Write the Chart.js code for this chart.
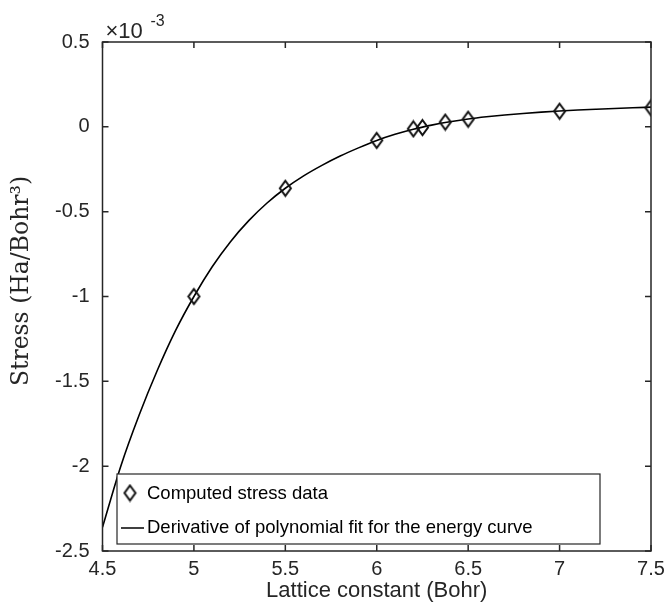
<!DOCTYPE html>
<html>
<head>
<meta charset="utf-8">
<script src="https://cdn.jsdelivr.net/npm/chart.js@4.4.1/dist/chart.umd.min.js"></script>
<style>
  html, body { margin: 0; padding: 0; background: #fff; }
  #wrap { width: 664px; height: 615px; }
</style>
</head>
<body>
<div id="wrap"><canvas id="stressChart" width="664" height="615"></canvas></div>
<script>
// Stress values are in units of 1e-3 Ha/Bohr^3 (axis carries the x10^-3 factor)
const latticePts = [5.0, 5.5, 6.0, 6.2, 6.25, 6.375, 6.5, 7.0, 7.5];
const stressPts = [-1.0, -0.362, -0.08, -0.012, -0.004, 0.028, 0.045, 0.092, 0.112];

// Curve (derivative of the polynomial fit)
const fitX = [4.5, 4.6, 4.7, 4.8, 4.9, 5.0, 5.1, 5.2, 5.3, 5.4, 5.5, 5.6, 5.7, 5.8, 5.9, 6.0,
              6.1, 6.2, 6.3, 6.4, 6.5, 6.6, 6.7, 6.8, 6.9, 7.0, 7.1, 7.2, 7.3, 7.4, 7.5];
const fitY = [-2.36, -2.0, -1.70, -1.435, -1.20, -1.0, -0.825, -0.677, -0.553, -0.449, -0.362,
              -0.289, -0.227, -0.172, -0.124, -0.08, -0.044, -0.014, 0.010, 0.030, 0.046,
              0.059, 0.070, 0.079, 0.0865, 0.093, 0.099, 0.104, 0.1085, 0.1125, 0.116];

const xTicks = [4.5, 5, 5.5, 6, 6.5, 7, 7.5];
const yTicks = [-2.5, -2, -1.5, -1, -0.5, 0, 0.5];

const INK = '#262626';
const SANS = '"Liberation Sans", Arial, sans-serif';

// MATLAB-style diamond marker (taller than wide), hollow
function makeDiamond(w, h, lw) {
    const c = document.createElement('canvas');
    c.width = w + 4;
    c.height = h + 4;
    const g = c.getContext('2d');
    const cx = c.width / 2, cy = c.height / 2;
    g.strokeStyle = '#111';
    g.lineWidth = lw;
    g.beginPath();
    g.moveTo(cx, cy - h / 2);
    g.lineTo(cx + w / 2, cy);
    g.lineTo(cx, cy + h / 2);
    g.lineTo(cx - w / 2, cy);
    g.closePath();
    g.stroke();
    return c;
}
const diamond = makeDiamond(11, 15, 2);

// inward ticks on all four sides, box, y label, x10^-3 factor and the legend
const framePlugin = {
    id: 'frame',
    afterDraw(chart) {
        const { ctx, chartArea: a, scales: { x, y } } = chart;
        ctx.save();
        ctx.strokeStyle = INK;
        ctx.lineWidth = 1.5;
        ctx.strokeRect(a.left, a.top, a.right - a.left, a.bottom - a.top);

        const tl = 6;
        ctx.beginPath();
        xTicks.forEach(v => {
            const px = x.getPixelForValue(v);
            ctx.moveTo(px, a.bottom); ctx.lineTo(px, a.bottom - tl);
            ctx.moveTo(px, a.top); ctx.lineTo(px, a.top + tl);
        });
        yTicks.forEach(v => {
            const py = y.getPixelForValue(v);
            ctx.moveTo(a.left, py); ctx.lineTo(a.left + tl, py);
            ctx.moveTo(a.right, py); ctx.lineTo(a.right - tl, py);
        });
        ctx.stroke();

        // y axis label (latex style serif)
        ctx.save();
        ctx.translate(22, 281);
        ctx.rotate(-Math.PI / 2);
        ctx.fillStyle = INK;
        ctx.textAlign = 'center';
        ctx.textBaseline = 'middle';
        ctx.font = '23.5px "DejaVu Serif", serif';
        ctx.fillText('Stress (Ha/Bohr\u00b3)', 0, 0);
        ctx.restore();

        // exponent factor
        ctx.fillStyle = INK;
        ctx.textBaseline = 'alphabetic';
        ctx.textAlign = 'left';
        ctx.font = '22px ' + SANS;
        ctx.fillText('\u00d710', a.left + 3, a.top - 4);
        ctx.font = '16px ' + SANS;
        ctx.fillText('-3', a.left + 48, a.top - 16);

        // legend box
        const lx = 117, ly = 474, lw = 483, lh = 70;
        ctx.fillStyle = '#fff';
        ctx.fillRect(lx, ly, lw, lh);
        ctx.lineWidth = 1.2;
        ctx.strokeStyle = INK;
        ctx.strokeRect(lx, ly, lw, lh);

        ctx.drawImage(diamond, 130 - diamond.width / 2, 493 - diamond.height / 2);
        ctx.beginPath();
        ctx.strokeStyle = '#000';
        ctx.lineWidth = 1.5;
        ctx.moveTo(121, 528);
        ctx.lineTo(144, 528);
        ctx.stroke();

        ctx.fillStyle = '#000';
        ctx.textBaseline = 'middle';
        ctx.font = '18.5px ' + SANS;
        ctx.fillText('Computed stress data', 147, 494);
        ctx.fillText('Derivative of polynomial fit for the energy curve', 147, 528);
        ctx.restore();
    }
};

const fitPoints = fitX.map((v, i) => ({ x: v, y: fitY[i] }));
const dataPoints = latticePts.map((v, i) => ({ x: v, y: stressPts[i] }));

new Chart(document.getElementById('stressChart'), {
    type: 'scatter',
    data: {
        datasets: [
            {
                label: 'Derivative of polynomial fit for the energy curve',
                data: fitPoints,
                showLine: true,
                borderColor: '#000',
                borderWidth: 1.6,
                pointRadius: 0,
                cubicInterpolationMode: 'monotone',
                order: 2
            },
            {
                label: 'Computed stress data',
                data: dataPoints,
                showLine: false,
                pointStyle: diamond,
                pointRadius: 7,
                order: 1
            }
        ]
    },
    options: {
        responsive: false,
        devicePixelRatio: 1,
        animation: false,
        layout: { padding: { top: 42, right: 13, left: 0, bottom: 0 } },
        plugins: {
            legend: { display: false },
            tooltip: { enabled: false }
        },
        scales: {
            x: {
                min: 4.5,
                max: 7.5,
                afterBuildTicks: s => { s.ticks = xTicks.map(v => ({ value: v })); },
                afterFit: s => { s.height = 64; s.paddingLeft = 0; s.paddingRight = 0; },
                grid: { display: false, drawTicks: false },
                border: { display: false },
                ticks: {
                    color: INK,
                    padding: 6,
                    maxRotation: 0,
                    font: { family: SANS, size: 20 },
                    callback: v => String(v)
                },
                title: {
                    display: true,
                    text: 'Lattice constant (Bohr)',
                    color: INK,
                    padding: { top: 11, bottom: 11 },
                    font: { family: SANS, size: 22 }
                }
            },
            y: {
                min: -2.5,
                max: 0.5,
                afterBuildTicks: s => { s.ticks = yTicks.map(v => ({ value: v })); },
                afterFit: s => { s.width = 102.5; },
                grid: { display: false, drawTicks: false },
                border: { display: false },
                ticks: {
                    color: INK,
                    padding: 13,
                    font: { family: SANS, size: 20 },
                    callback: v => String(v)
                }
            }
        }
    },
    plugins: [framePlugin]
});
</script>
</body>
</html>
